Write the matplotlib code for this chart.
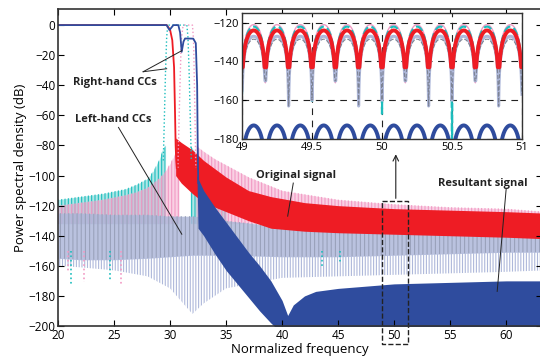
import numpy as np
import matplotlib.pyplot as plt

plt.rcParams['font.family'] = ['Open Sans', 'DejaVu Sans']
plt.rcParams['hatch.linewidth'] = 0.8

# ---- passband curves (main plot) ----
red_x = [20, 29.7, 30.0, 30.2, 30.36, 30.45, 30.5, 30.55, 30.6]
red_y = [0, 0, -3, -10, -28, -60, -80, -90, -95]
blue_x = [20, 29.7, 29.95, 30.3, 30.74, 30.9, 31.04, 31.2, 31.34, 32.07, 32.3, 32.42, 32.47, 32.52]
blue_y = [0, 0, -3.3, 0, 0, -5, -17.8, -11, -8.9, -9, -12, -40, -80, -105]
cyan_x = [29.4, 29.5, 29.6, 29.7, 29.8, 31.5, 31.6, 31.7, 31.8, 31.9]
cyan_y = [-90, -60, -30, -8, 0, 0, -8, -30, -60, -90]
pink_x = [30.7, 30.85, 31.0, 31.15, 31.3, 32.0, 32.1, 32.2, 32.3]
pink_y = [-95, -50, -10, -1, 0, 0, -10, -50, -95]

# ---- sidelobe envelopes (main plot) ----
pinkL_x = [20, 22, 24, 26, 27, 28, 29, 29.5, 30, 30.5, 30.8]
pinkL_hi = [-120, -118, -116, -113, -111, -108, -102, -98, -92, -85, -80]
pinkR_x = [32.3, 33, 34, 35, 37, 40, 45, 50, 55, 60, 63.5]
pinkR_hi = [-80, -84, -89, -93, -101, -110, -116, -119, -121, -122, -124]
cyanL_x = [20, 22, 24, 26, 27, 28, 28.5, 29, 29.4, 29.6]
cyanL_hi = [-116, -114, -112, -109, -106, -102, -97, -90, -82, -80]
cyanR_x = [31.8, 32, 32.5, 33, 35]
cyanR_hi = [-80, -82, -88, -95, -104]

gray_x = [20, 22, 25, 28, 30, 32, 33, 35, 40, 45, 50, 55, 60, 63.5]
gray_hi = [-125, -125, -126, -126, -127, -127, -128, -130, -134, -136, -137, -138, -139, -140]
gray_lo = [-155, -156, -156, -155, -154, -153, -153, -153, -154, -154, -153, -152, -151, -151]
gray_spike = [-160, -161, -163, -167, -175, -192, -185, -175, -168, -167, -166, -165, -164, -163]

redB_x = [30.5, 31, 32, 33, 35, 37, 39, 42, 45, 50, 55, 60, 63.5]
redB_hi = [-75, -78, -83, -90, -101, -110, -114, -118, -120, -122, -123, -124, -125]
redB_lo = [-100, -105, -112, -118, -124, -130, -135, -137, -138, -139, -140, -141, -142]

blueB_x = [32.4, 32.5, 33, 34, 35, 36, 37, 38, 39, 40, 40.5, 41, 42, 43, 45, 50, 55, 60, 63.5]
blueB_hi = [-100, -102, -110, -121, -131, -141, -151, -160, -170, -183, -193, -186, -180, -177, -175, -172, -171, -170, -170]
blueB_lo = [-100, -135, -140, -152, -163, -172, -181, -190, -198, -205, -205, -205, -205, -205, -205, -205, -205, -205, -205]

spike_cyan_x = [21.2, 24.6, 43.6, 45.2]
spike_cyan_y = [-172, -170, -160, -158]
spike_pink_x = [20.9, 22.3, 25.6]
spike_pink_y = [-165, -171, -172]

# ---- zoomed inset ----
nulls = [49.0, 49.167, 49.333, 49.5, 49.667, 49.833, 50.0, 50.167, 50.333, 50.5, 50.667, 50.833, 51.0]
red_peak, red_dips = -124, [-143] * 13
gray_peak = -127
gray_dips = [-155, -150, -163, -160, -150, -163, -160, -150, -163, -160, -150, -163, -157]
dgray_peak = -128.5
pink_peak = -121
pink_dips = [-152, -151, -158, -158, -151, -158, -158, -151, -158, -158, -151, -158, -156]
cyan_peak = -122
cyan_dips = [-157, -150, -158, -161, -150, -158, -167, -150, -158, -190, -150, -158, -156]
blue_peak, blue_dips = -173, [-190] * 13


def arcs(peak, dips):
    xs, ys = [], []
    for i in range(len(nulls) - 1):
        t = np.linspace(0, 1, 60)
        v = peak + 20 * np.log10(np.maximum(np.sin(np.pi * t), 1e-6))
        fl = np.where(t < 0.5, dips[i], dips[i + 1])
        xs.append(nulls[i] + t * (nulls[i + 1] - nulls[i]))
        ys.append(np.maximum(v, fl))
    return np.concatenate(xs), np.concatenate(ys)


fig = plt.figure(figsize=(5.4, 3.64), dpi=100)
ax = fig.add_axes([58 / 540, 38 / 364, 484 / 540, 317 / 364])

c_pink, c_cyan, c_gray, c_red, c_blue = '#f29ac4', '#1dbdbd', '#aeb8da', '#ee1c24', '#2f4c9e'

# textured sidelobe bands (dotted traces look)
for bx, bhi, col, fa in [(cyanL_x, cyanL_hi, c_cyan, 0.35), (pinkL_x, pinkL_hi, c_pink, 0.45),
                         (cyanR_x, cyanR_hi, c_cyan, 0.35), (pinkR_x, pinkR_hi, c_pink, 0.45)]:
    ax.fill_between(bx, -132, bhi, color=col, alpha=fa, lw=0)
    ax.fill_between(bx, -132, bhi, facecolor='none', edgecolor=col, hatch='|||||', lw=0)
ax.vlines(spike_cyan_x, -150, spike_cyan_y, color=c_cyan, lw=1.2, linestyles=':')
ax.vlines(spike_pink_x, -150, spike_pink_y, color=c_pink, lw=1.2, linestyles=':')
ax.fill_between(gray_x, gray_lo, gray_hi, color=c_gray, alpha=0.85, lw=0)
ax.fill_between(gray_x, gray_lo, gray_hi, facecolor='none', edgecolor='#9aa2bb', hatch='||||', lw=0)
ax.fill_between(gray_x, gray_spike, gray_lo, facecolor='none', edgecolor=c_gray, hatch='||||||', lw=0)
ax.fill_between(redB_x, redB_lo, redB_hi, color=c_red, lw=0)
ax.fill_between(blueB_x, blueB_lo, blueB_hi, color=c_blue, lw=0)

ax.plot(cyan_x, cyan_y, color=c_cyan, lw=1, ls=':')
ax.plot(pink_x, pink_y, color=c_pink, lw=1, ls=':')
ax.plot(red_x, red_y, color=c_red, lw=1.3)
ax.plot(blue_x, blue_y, color=c_blue, lw=1.3)

ax.set_xlim(20, 63.2)
ax.set_ylim(-200, 10.7)
ax.set_xticks([20, 25, 30, 35, 40, 45, 50, 55, 60])
ax.set_yticks([0, -20, -40, -60, -80, -100, -120, -140, -160, -180, -200])
ax.tick_params(direction='in', top=True, right=True, labelsize=8.5, length=4, pad=2)
for s in ax.spines.values():
    s.set_linewidth(1.2)
    s.set_color('#333333')
ax.set_xlabel('Normalized frequency', fontsize=9.5, labelpad=1)
ax.set_ylabel('Power spectral density (dB)', fontsize=9.5, labelpad=1)

# annotations
tk = dict(fontsize=8, fontweight='bold', color='#222222', ha='center', va='center')
ax.text(25.1, -38, 'Right-hand CCs', **tk)
ax.plot([27.6, 29.7], [-31, -29], color='#222222', lw=0.7)
ax.plot([27.6, 31.05], [-31, -17], color='#222222', lw=0.7)
ax.text(24.9, -63, 'Left-hand CCs', **tk)
ax.plot([25.4, 31.05], [-68, -139], color='#222222', lw=0.7)
ax.text(41.2, -100, 'Original signal', **tk)
ax.plot([41.0, 40.5], [-105, -127], color='#222222', lw=0.7)
ax.text(57.9, -105, 'Resultant signal', **tk)
ax.plot([60.0, 59.2], [-109, -177], color='#222222', lw=0.7)

# dashed box and arrow
ax.plot([48.9, 51.2, 51.2, 48.9, 48.9], [-117, -117, -212, -212, -117],
        color='#222222', lw=1, ls='--', clip_on=False)
ax.annotate('', xy=(50.15, -84), xytext=(50.15, -117),
            arrowprops=dict(arrowstyle='->', color='#222222', lw=0.8))

# inset
ins = fig.add_axes([242 / 540, 225 / 364, 280 / 540, 126 / 364])
for pk, dp, col, lw, ls in [(pink_peak, pink_dips, c_pink, 1.0, '-'),
                            (cyan_peak, cyan_dips, c_cyan, 1.6, '--'),
                            (gray_peak, gray_dips, c_gray, 2.2, '-'),
                            (dgray_peak, gray_dips, '#7d8394', 0.8, '--'),
                            (red_peak, red_dips, c_red, 2.8, '-'),
                            (blue_peak, blue_dips, c_blue, 2.8, '-')]:
    xx, yy = arcs(pk, dp)
    ins.plot(xx, yy, color=col, lw=lw, ls=ls)
ins.set_xlim(49, 51)
ins.set_ylim(-180, -115)
ins.set_xticks([49, 49.5, 50, 50.5, 51])
ins.set_xticklabels(['49', '49.5', '50', '50.5', '51'])
ins.set_yticks([-120, -140, -160, -180])
ins.grid(True, color='#222222', ls=(0, (6, 5)), lw=0.8)
ins.tick_params(direction='in', labelsize=8, length=3, pad=2)
for s in ins.spines.values():
    s.set_linewidth(1.0)
    s.set_color('#333333')

fig.savefig('out.png', dpi=100)
